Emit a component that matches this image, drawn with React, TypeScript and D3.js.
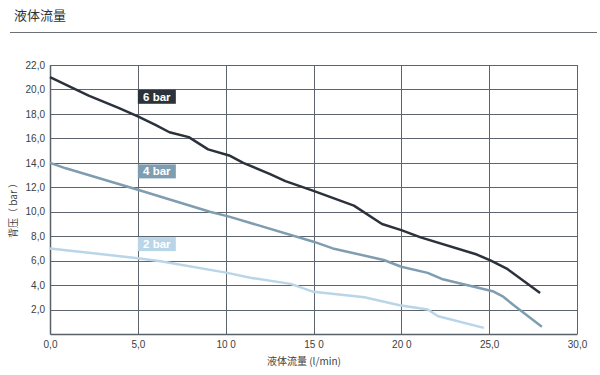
import React, { useEffect, useRef } from 'react';
import * as d3 from 'd3';

const xTicks = [0, 5, 10, 15, 20, 25, 30];
const xTickLabels = ['0,0', '5,0', '10 0', '15 0', '20 0', '25,0', '30,0'];
const yTicks = [2, 4, 6, 8, 10, 12, 14, 16, 18, 20, 22];
const yTickLabels = ['2,0', '4,0', '6,0', '8,0', '10,0', '12,0', '14,0', '16,0', '18,0', '20,0', '22,0'];

const flow6: [number, number][] = [
  [0, 21.0], [2.2, 19.5], [3.9, 18.5], [5, 17.8], [6, 17.1], [6.8, 16.5], [7.9, 16.1],
  [9, 15.1], [10.2, 14.6], [11, 14.0], [12.5, 13.1], [13.4, 12.5], [15, 11.7],
  [17.3, 10.5], [18.9, 9.0], [20.0, 8.5], [21.1, 7.9], [24.3, 6.5], [25.1, 6.0],
  [26.0, 5.35], [27.9, 3.35],
];
const flow4: [number, number][] = [
  [0, 14.0], [0.9, 13.55], [5, 11.8], [9.1, 10.0], [10.2, 9.6], [15, 7.55], [16.1, 7.0],
  [19, 6.05], [20, 5.5], [21.5, 5.0], [22.3, 4.5], [25.2, 3.5], [25.8, 3.05],
  [26.4, 2.35], [28, 0.6],
];
const flow2: [number, number][] = [
  [0, 7.0], [5, 6.2], [6.3, 5.95], [10.1, 5.0], [11.4, 4.6], [13.7, 4.1], [15, 3.45],
  [17.9, 3.0], [19.9, 2.35], [21.5, 2.0], [22.1, 1.45], [24.7, 0.5],
];

const seriesNames = ['6 bar', '4 bar', '2 bar'];
const seriesColors = ['#2b323b', '#7f9db0', '#b9d5e8'];
const labelY = [19.4, 13.3, 7.35];

const App: React.FC = () => {
  const svgRef = useRef<SVGSVGElement>(null);

  useEffect(() => {
    if (!svgRef.current) return;
    const svg = d3.select(svgRef.current);
    svg.selectAll('*').remove();

    const font = '"Liberation Sans", Arial, "Noto Sans CJK SC", sans-serif';
    const cjk = '"Noto Sans CJK SC", "Liberation Sans", sans-serif';
    const margin = { left: 50, right: 23, top: 65, bottom: 41 };
    const W = 600, H = 375;

    const x = d3.scaleLinear().domain([0, 30]).range([margin.left, W - margin.right]);
    const y = d3.scaleLinear().domain([0, 22]).range([H - margin.bottom, margin.top]);

    // title + rule
    svg.append('text')
      .attr('x', 14).attr('y', 20)
      .attr('font-family', cjk).attr('font-size', 13)
      .attr('fill', '#2e3338')
      .text('液体流量');
    svg.append('line')
      .attr('x1', 10).attr('x2', 597).attr('y1', 32.5).attr('y2', 32.5)
      .attr('stroke', '#6b7079').attr('stroke-width', 1);

    // grid
    const grid = svg.append('g');
    grid.selectAll('line.h')
      .data(yTicks)
      .join('line')
      .attr('class', 'h')
      .attr('x1', x(0)).attr('x2', x(30))
      .attr('y1', d => Math.round(y(d)) + 0.5).attr('y2', d => Math.round(y(d)) + 0.5)
      .attr('stroke', '#5d646d').attr('stroke-width', 1);
    grid.selectAll('line.v')
      .data(xTicks.filter(d => d > 0))
      .join('line')
      .attr('class', 'v')
      .attr('x1', d => Math.round(x(d)) + 0.5).attr('x2', d => Math.round(x(d)) + 0.5)
      .attr('y1', y(22)).attr('y2', y(0))
      .attr('stroke', '#5d646d').attr('stroke-width', 1);

    // axes
    const xAxis = svg.append('g')
      .attr('transform', `translate(0,${y(0)})`)
      .call(d3.axisBottom(x).tickValues(xTicks).tickSize(0).tickPadding(7)
        .tickFormat((_d, i) => xTickLabels[i]));
    xAxis.select('.domain').attr('stroke', '#59606a').attr('stroke-width', 1.5);
    xAxis.selectAll('.tick text')
      .attr('fill', '#3a3f45').attr('font-family', font).attr('font-size', 10);

    const yAxis = svg.append('g')
      .attr('transform', `translate(${x(0)},0)`)
      .call(d3.axisLeft(y).tickValues(yTicks).tickSize(0).tickPadding(5)
        .tickFormat((_d, i) => yTickLabels[i]));
    yAxis.select('.domain').attr('stroke', '#59606a').attr('stroke-width', 1.5);
    yAxis.selectAll('.tick text')
      .attr('fill', '#3a3f45').attr('font-family', font).attr('font-size', 10);

    // axis titles
    svg.append('text')
      .attr('x', 267).attr('y', 365)
      .attr('font-family', cjk).attr('font-size', 10)
      .attr('fill', '#3a3f45')
      .text('液体流量 (l/min)');
    svg.append('text')
      .attr('transform', `translate(17,208) rotate(-90)`)
      .attr('text-anchor', 'middle')
      .attr('font-family', cjk).attr('font-size', 10)
      .attr('fill', '#3a3f45')
      .text('背压（ bar ）');

    // lines
    const line = d3.line<[number, number]>()
      .x(d => x(d[0]))
      .y(d => y(d[1]))
      .curve(d3.curveLinear);
    const allSeries = [flow6, flow4, flow2];
    allSeries.slice().reverse().forEach((s, ri) => {
      const i = allSeries.length - 1 - ri;
      svg.append('path')
        .datum(s)
        .attr('d', line)
        .attr('fill', 'none')
        .attr('stroke', seriesColors[i])
        .attr('stroke-width', 2.5)
        .attr('stroke-linejoin', 'round')
        .attr('stroke-linecap', 'butt');
    });

    // series labels
    seriesNames.forEach((name, i) => {
      const g = svg.append('g').attr('transform', `translate(${x(5)},${y(labelY[i]) - 7})`);
      g.append('rect')
        .attr('width', 38).attr('height', 14)
        .attr('fill', seriesColors[i]);
      g.append('text')
        .attr('x', 19).attr('y', 11)
        .attr('text-anchor', 'middle')
        .attr('font-family', font).attr('font-size', 11.5).attr('font-weight', 'bold')
        .attr('fill', '#ffffff')
        .text(name);
    });
  }, []);

  return (
    <div style={{ position: 'absolute', left: 0, top: 0, width: 600, height: 375, background: '#fff' }}>
      <svg ref={svgRef} width={600} height={375} style={{ display: 'block' }} />
    </div>
  );
};

export default App;
